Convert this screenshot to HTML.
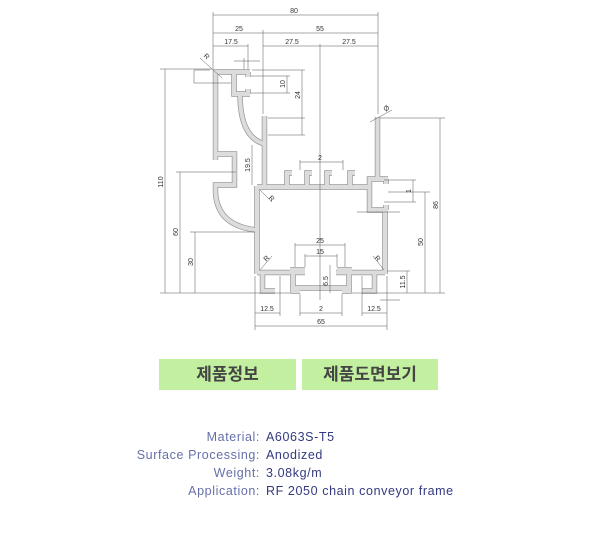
<!DOCTYPE html>
<html><head><meta charset="utf-8"><style>
body{margin:0;background:#fff;width:600px;height:550px;position:relative;overflow:hidden;font-family:"Liberation Sans",sans-serif}
.btn{position:absolute;top:359px;height:31px;background:#c3f0a0;font:bold 17px "Liberation Sans","Noto Sans CJK KR",sans-serif;color:#444;text-align:center;line-height:31px}
.info{position:absolute;left:0;top:428px;width:600px;font-size:12.5px;line-height:18px;letter-spacing:0.6px}
.info div{position:relative;height:18px;width:600px}
.l{position:absolute;right:340px;color:#6670a8;white-space:nowrap}
.v{position:absolute;left:266px;color:#333a80;white-space:nowrap}
</style></head><body>
<svg width="600" height="340" style="position:absolute;left:0;top:0" font-family="Liberation Sans" font-size="7" fill="#333">
<defs>
<g id="prof" fill="none">
<path d="M215.5 160 L215.5 72 L250 72"/>
<path d="M234 72 L234 94 L250 94"/>
<path d="M248 72 L248 77"/><path d="M248 94 L248 89"/>
<path d="M240 94 Q240 138 265 144"/>
<path d="M215.5 154 L234.5 154 L234.5 185 L215.5 185 L215.5 192 Q217 226 257 230"/>
<path d="M264.5 116 L264.5 187"/>
<path d="M257 187 L369 187"/>
<path d="M257 186 L257 274"/>
<path d="M377.5 117 L377.5 179"/>
<path d="M388 179 L369.5 179 L369.5 210 L388 210"/>
<path d="M386 179 L386 184"/><path d="M386 210 L386 205"/>
<path d="M385 210 L385 274"/>
<path d="M257 272.5 L305 272.5"/><path d="M336 272.5 L385 272.5"/>
<path d="M262.5 273 L262.5 291 L275 291"/>
<path d="M290 270 L305 270"/><path d="M337 270 L352 270"/>
<path d="M293 270 L293 291 L300 291"/><path d="M349 270 L349 291 L342 291"/>
<path d="M293 288 L349 288"/>
<path d="M374.5 273 L374.5 291 L362 291"/>
<path d="M287 187 L287 173 L292 173"/><path d="M307 187 L307 173 L312 173"/>
<path d="M327 187 L327 173 L332 173"/><path d="M350 187 L350 173 L355 173"/>
</g>
</defs>
<use href="#prof" stroke="#999" stroke-width="5.5"/>
<use href="#prof" stroke="#dcdcdc" stroke-width="4"/>
<g stroke="#555" stroke-width="0.5" fill="none">
<line x1="213" y1="15" x2="378" y2="15"/><line x1="213" y1="33" x2="378" y2="33"/><line x1="213" y1="46" x2="248" y2="46"/><line x1="263" y1="46" x2="378" y2="46"/>
<line x1="213" y1="12" x2="213" y2="69"/><line x1="378" y1="12" x2="378" y2="114"/><line x1="263" y1="30" x2="263" y2="114"/><line x1="248" y1="44" x2="248" y2="69"/>
<line x1="320" y1="44" x2="320" y2="300"/>
<line x1="165" y1="69" x2="165" y2="293"/><line x1="180" y1="172" x2="180" y2="293"/><line x1="195" y1="232" x2="195" y2="293"/>
<line x1="160" y1="69" x2="212" y2="69"/><line x1="176" y1="172" x2="236" y2="172"/><line x1="190" y1="232" x2="255" y2="232"/><line x1="160" y1="293" x2="290" y2="293"/>
<line x1="440" y1="118" x2="440" y2="293"/><line x1="425" y1="192" x2="425" y2="293"/><line x1="407" y1="271" x2="407" y2="293"/><line x1="413" y1="180" x2="413" y2="202"/>
<line x1="380" y1="118" x2="445" y2="118"/><line x1="388" y1="192" x2="430" y2="192"/><line x1="352" y1="293" x2="445" y2="293"/><line x1="387" y1="271" x2="410" y2="271"/>
<line x1="384" y1="180" x2="416" y2="180"/><line x1="384" y1="202" x2="416" y2="202"/>
<line x1="255" y1="313" x2="280" y2="313"/><line x1="300" y1="313" x2="342" y2="313"/><line x1="362" y1="313" x2="387" y2="313"/><line x1="255" y1="326" x2="387" y2="326"/>
<line x1="255" y1="276" x2="255" y2="330"/><line x1="387" y1="276" x2="387" y2="330"/><line x1="280" y1="276" x2="280" y2="316"/><line x1="362" y1="276" x2="362" y2="316"/><line x1="300" y1="294" x2="300" y2="316"/><line x1="342" y1="294" x2="342" y2="316"/>
<line x1="295" y1="245" x2="345" y2="245"/><line x1="305" y1="256" x2="337" y2="256"/><line x1="295" y1="243" x2="295" y2="267"/><line x1="345" y1="243" x2="345" y2="267"/><line x1="305" y1="254" x2="305" y2="267"/><line x1="337" y1="254" x2="337" y2="267"/>
<line x1="330" y1="265" x2="330" y2="293"/>
<line x1="302" y1="70" x2="302" y2="135"/><line x1="252" y1="70" x2="305" y2="70"/><line x1="268" y1="135" x2="305" y2="135"/><line x1="268" y1="118" x2="305" y2="118"/>
<line x1="287" y1="76" x2="287" y2="93"/><line x1="251" y1="76" x2="290" y2="76"/><line x1="251" y1="93" x2="290" y2="93"/>
<line x1="300" y1="162" x2="343" y2="162"/><line x1="300" y1="160" x2="300" y2="170"/><line x1="343" y1="160" x2="343" y2="170"/>
<line x1="252" y1="145" x2="252" y2="185"/>
<line x1="194" y1="70" x2="210" y2="70"/><line x1="194" y1="83" x2="231" y2="83"/><line x1="194" y1="70" x2="194" y2="83"/>
<line x1="234" y1="61" x2="260" y2="61"/><line x1="244" y1="58" x2="244" y2="69"/>
<line x1="200" y1="58" x2="222" y2="78"/><line x1="370" y1="122" x2="392" y2="110"/>
<line x1="260" y1="190" x2="272" y2="202"/><line x1="260" y1="270" x2="272" y2="256"/><line x1="384" y1="270" x2="373" y2="256"/>
<line x1="357" y1="212" x2="400" y2="212"/><line x1="380" y1="300" x2="400" y2="300"/>
</g>
<g text-anchor="middle">
<text x="294" y="13">80</text><text x="239" y="31">25</text><text x="320" y="31">55</text>
<text x="231" y="44">17.5</text><text x="292" y="44">27.5</text><text x="349" y="44">27.5</text>
<text x="320" y="160">2</text><text x="320" y="243">25</text><text x="320" y="254">15</text>
<text x="267" y="311">12.5</text><text x="321" y="311">2</text><text x="374" y="311">12.5</text><text x="321" y="324">65</text>
<text transform="translate(163,182) rotate(-90)">110</text><text transform="translate(178,232) rotate(-90)">60</text><text transform="translate(193,262) rotate(-90)">30</text>
<text transform="translate(438,205) rotate(-90)">86</text><text transform="translate(423,242) rotate(-90)">50</text><text transform="translate(405,282) rotate(-90)">11.5</text><text transform="translate(411,191) rotate(-90)">1</text>
<text transform="translate(300,95) rotate(-90)">24</text><text transform="translate(285,84) rotate(-90)">10</text><text transform="translate(250,165) rotate(-90)">19.5</text><text transform="translate(328,281) rotate(-90)">6.5</text>
<text transform="translate(205,58) rotate(45)">R</text><text transform="translate(388,110) rotate(-45)">Ø</text>
<text transform="translate(270,200) rotate(45)">R</text><text transform="translate(268,260) rotate(-45)">R</text><text transform="translate(376,260) rotate(45)">R</text>
</g>
</svg>
<div class="btn" style="left:159px;width:137px">제품정보</div>
<div class="btn" style="left:302px;width:136px">제품도면보기</div>
<div class="info">
<div><span class="l">Material:</span><span class="v">A6063S-T5</span></div>
<div><span class="l">Surface Processing:</span><span class="v">Anodized</span></div>
<div><span class="l">Weight:</span><span class="v">3.08kg/m</span></div>
<div><span class="l">Application:</span><span class="v">RF 2050 chain conveyor frame</span></div>
</div>
</body></html>
